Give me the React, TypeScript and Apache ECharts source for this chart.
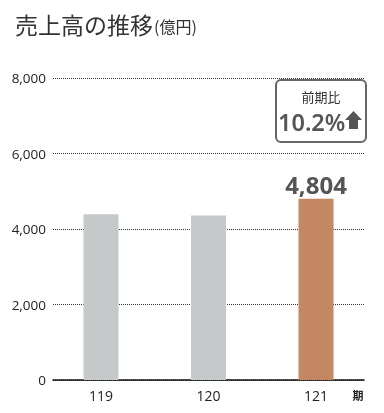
import React, { useEffect, useRef } from "react";
import * as echarts from "echarts";

const categories = ["119", "120", "121"];
const sales = [4390, 4359, 4804];
const highlightIndex = 2;
const yMin = 0;
const yMax = 8000;
const yInterval = 2000;
const titleMain = "売上高の推移";
const titleUnit = "(億円)";
const periodUnit = "期";
const yoyLabel = "前期比";
const yoyValue = "10.2%";

const CJK = '"Noto Sans CJK JP", "Noto Sans", sans-serif';
const LATIN = '"Open Sans", "Noto Sans CJK JP", sans-serif';
const BOLD = '"Noto Sans", "Open Sans", sans-serif';

export default function App() {
  const ref = useRef<HTMLDivElement>(null);
  useEffect(() => {
    if (!ref.current) return;
    const chart = echarts.init(ref.current, undefined, { renderer: "svg" });
    const top = 78;
    const height = 302;
    chart.setOption({
      animation: false,
      textStyle: { fontFamily: LATIN },
      title: {
        text: `{a|${titleMain}}{b|${titleUnit}}`,
        left: 10,
        top: 7,
        textStyle: {
          rich: {
            a: { fontSize: 23, color: "#333", fontFamily: CJK, fontWeight: "normal" },
            b: { fontSize: 16, color: "#333", fontFamily: CJK, fontWeight: "normal", padding: [4, 0, 0, 1] },
          },
        },
      },
      grid: [
        { left: 47.25, width: 322.5, top, height },
        { left: 53, width: 311, top, height },
      ],
      xAxis: [
        {
          type: "category",
          gridIndex: 0,
          data: categories,
          axisLine: { show: false },
          axisTick: { show: false },
          axisLabel: { color: "#222", fontSize: 14, margin: 8, fontFamily: LATIN },
        },
        {
          type: "value",
          gridIndex: 1,
          min: 0,
          max: 1,
          axisLine: { show: true, lineStyle: { color: "#111", width: 1.5 } },
          axisTick: { show: false },
          axisLabel: { show: false },
          splitLine: { show: false },
        },
      ],
      yAxis: [
        {
          type: "value",
          gridIndex: 0,
          min: yMin,
          max: yMax,
          interval: yInterval,
          show: false,
          splitLine: { show: false },
        },
        {
          type: "value",
          gridIndex: 1,
          min: yMin,
          max: yMax,
          interval: yInterval,
          axisLine: { show: false },
          axisTick: { show: false },
          axisLabel: {
            color: "#222",
            fontSize: 13.5,
            margin: 7,
            fontFamily: LATIN,
            formatter: (v: number) => v.toLocaleString("en-US"),
          },
          splitLine: {
            show: true,
            lineStyle: { color: "#333", type: "dotted", width: 1 },
          },
        },
      ],
      series: [
        {
          type: "bar",
          xAxisIndex: 0,
          yAxisIndex: 0,
          barWidth: 35,
          data: sales.map((v, i) =>
            i === highlightIndex
              ? {
                  value: v,
                  itemStyle: { color: "#c38763" },
                  label: {
                    show: true,
                    position: "top",
                    distance: 2,
                    fontSize: 24,
                    fontWeight: "bold",
                    color: "#555",
                    fontFamily: BOLD,
                    formatter: (p: any) => Number(p.value).toLocaleString("en-US"),
                  },
                }
              : { value: v, itemStyle: { color: "#c5c9c9" } }
          ),
        },
      ],
      graphic: [
        {
          type: "text",
          x: 358,
          y: 395,
          style: {
            text: periodUnit,
            fontSize: 11,
            fontWeight: "bold",
            fill: "#222",
            align: "center",
            verticalAlign: "middle",
            fontFamily: CJK,
          },
        },
        {
          type: "rect",
          shape: { x: 276, y: 80, width: 90, height: 62, r: 5 },
          style: { fill: "#fff", stroke: "#666", lineWidth: 2 },
        },
        {
          type: "text",
          x: 321,
          y: 96,
          style: {
            text: yoyLabel,
            fontSize: 13,
            fill: "#333",
            align: "center",
            verticalAlign: "middle",
            fontFamily: CJK,
          },
        },
        {
          type: "text",
          x: 278,
          y: 122,
          style: {
            text: yoyValue,
            fontSize: 23.5,
            fontWeight: 600,
            fill: "#555",
            align: "left",
            verticalAlign: "middle",
            fontFamily: BOLD,
          },
        },
        {
          type: "polygon",
          shape: {
            points: [
              [353.5, 111],
              [362, 120],
              [358, 120],
              [358, 129],
              [349, 129],
              [349, 120],
              [345, 120],
            ],
          },
          style: { fill: "#555" },
        },
      ],
    });
    return () => chart.dispose();
  }, []);
  return <div ref={ref} style={{ width: 384, height: 413, position: "fixed", left: 0, top: 0 }} />;
}
